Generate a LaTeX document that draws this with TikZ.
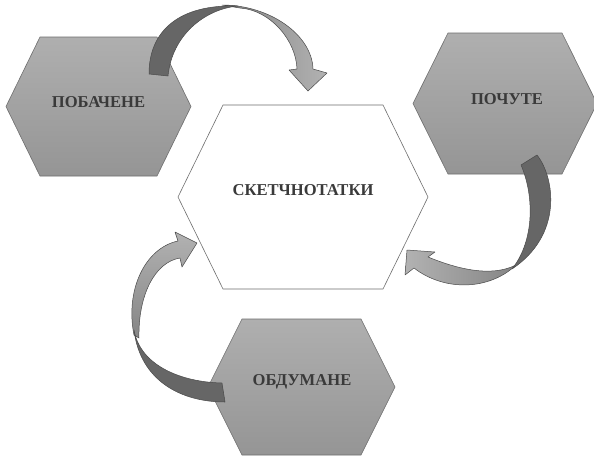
\documentclass[tikz,border=0pt]{standalone}
\usepackage{fontspec}
\setmainfont{Liberation Serif}
\definecolor{hextop}{HTML}{AFAFAF}
\definecolor{hexbot}{HTML}{959595}
\definecolor{hexline}{HTML}{6E6E6E}
\definecolor{txt}{HTML}{3A3A3A}
\definecolor{ribdark}{HTML}{666666}
\definecolor{riblo}{HTML}{858585}
\definecolor{ribhi}{HTML}{B2B2B2}
\definecolor{ribline}{HTML}{4A4A4A}
\newcommand\hexshape[6]{%
  \path[#1] (#2,{(#4+#5)/2}) -- ({#2+#6},#4) -- ({#3-#6},#4) -- (#3,{(#4+#5)/2})
    -- ({#3-#6},#5) -- ({#2+#6},#5) -- cycle;}
\begin{document}
\begin{tikzpicture}[x=1pt,y=-1pt,
  greyhex/.style={draw=hexline, line width=0.6pt, top color=hextop, bottom color=hexbot},
  whitehex/.style={draw=hexline, line width=0.6pt, fill=white},
  lbl/.style={text=txt, font=\fontsize{16.6}{18}\selectfont\bfseries, inner sep=0pt},
  darkrib/.style={draw=ribline, line width=0.5pt, fill=ribdark, line join=round},
  lightrib/.style={draw=ribline, line width=0.5pt, line join=round}]
\useasboundingbox (0,0) rectangle (594,459);
\fill[white] (0,0) rectangle (594,459);
% hexagons
\hexshape{greyhex}{6}{191}{37}{176}{34}
\hexshape{greyhex}{413}{597}{33}{174}{35}
\hexshape{greyhex}{208}{395}{319}{455}{34}
\hexshape{whitehex}{178}{428}{105}{289}{45}
\node[lbl] (pob) at (98.5,102) {ПОБАЧЕНЕ};
\node[lbl] (poch) at (507,99) {ПОЧУТЕ};
\node[lbl] (obd) at (302,382) {ОБДУМАНЕ};
\node[lbl] (sket) at (303,190) {СКЕТЧНОТАТКИ};
% arrow 1: ПОБАЧЕНЕ -> СКЕТЧНОТАТКИ
\path[lightrib, left color=riblo, right color=ribhi]
  (222,5) .. controls (270,5) and (312,35) .. (313,69)
  -- (327,73) -- (308,91) -- (289,70) -- (297,69)
  .. controls (296,40) and (270,10) .. (240,8) -- cycle;
\path[darkrib]
  (149,74) .. controls (149,30) and (180,4) .. (238,6)
  .. controls (205,9) and (172,35) .. (168,76) -- cycle;
% arrow 2: ПОЧУТЕ -> СКЕТЧНОТАТКИ
\path[lightrib, left color=ribhi, right color=riblo]
  (428,257) .. controls (455,268) and (490,278) .. (516,265)
  .. controls (490,290) and (445,292) .. (414,268)
  -- (405,275) -- (407,250) -- (435,252) -- cycle;
\path[darkrib]
  (537,155) .. controls (555,178) and (563,235) .. (512,269)
  .. controls (535,240) and (534,195) .. (521,165) -- cycle;
% arrow 3: ОБДУМАНЕ -> СКЕТЧНОТАТКИ
\path[lightrib, top color=ribhi, bottom color=riblo]
  (134,335) .. controls (125,290) and (145,248) .. (178,241)
  -- (175,232) -- (197,243) -- (182,267) -- (180,258)
  .. controls (155,262) and (138,295) .. (139,338) -- cycle;
\path[darkrib]
  (222,383) .. controls (180,382) and (140,365) .. (134,330)
  .. controls (140,380) and (180,402) .. (225,402) -- cycle;
\end{tikzpicture}
\end{document}
